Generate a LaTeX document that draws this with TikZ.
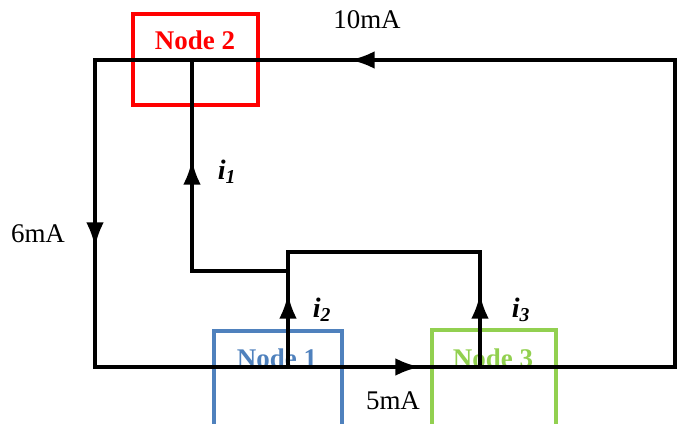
\documentclass[tikz,border=0pt]{standalone}
\usepackage{fontspec}
\setmainfont{Liberation Serif}
\usetikzlibrary{arrows.meta}
\usetikzlibrary{positioning}
\definecolor{nodered}{RGB}{255,0,0}
\definecolor{nodeblue}{RGB}{79,129,189}
\definecolor{nodegreen}{RGB}{146,208,80}

\begin{document}
\begin{tikzpicture}[x=0.03cm, y=-0.03cm, >={Latex[length=21pt, width=15pt]}]
	\tikzstyle{box} = [draw, line width=4pt, inner sep=0pt, minimum height=2.73cm];
	\tikzstyle{wire} = [line width=3pt, line join=miter];
	\tikzstyle{nodetext} = [font=\fontsize{23}{23}\selectfont\bfseries];
	\tikzstyle{current} = [font=\fontsize{23}{23}\selectfont];
	\tikzstyle{branch} = [font=\fontsize{24}{24}\selectfont\bfseries\itshape];

	\useasboundingbox (0,0) rectangle (677,423);

	% node boxes
	\node [box, draw=nodered, minimum width=3.75cm]  (n2) at (195.5,59.5) {};
	\node [box, draw=nodeblue, minimum width=3.84cm, minimum height=3cm] (n1) at (278,381) {};
	\node [box, draw=nodegreen, minimum width=3.72cm, minimum height=3cm] (n3) at (494,380) {};
	\node [nodetext, text=nodered]   (n2text) at (195,40)  {Node 2};
	\node [nodetext, text=nodeblue]  (n1text) at (277,358) {Node 1};
	\node [nodetext, text=nodegreen] (n3text) at (493,358) {Node 3};

	% outer loop
	\coordinate (tl) at (95,60);
	\coordinate (tr) at (675,60);
	\coordinate (bl) at (95,367);
	\coordinate (br) at (675,367);
	\coordinate (topmid) at (350,60);
	\coordinate (leftmid) at (95,247);
	\coordinate (botmid) at (420,367);

	\draw [wire] (tl) -- (tr) -- (br) -- (bl) -- cycle;
	\draw [wire, ->] (bl) -- (botmid);
	\draw [wire, ->] (tr) -- (topmid);
	\draw [wire, ->] (tl) -- (leftmid);

	% inner branches
	\coordinate (j1) at (192,271);
	\coordinate (j2) at (288,271);
	\coordinate (j3) at (288,252);
	\coordinate (j4) at (480,252);
	\coordinate (a1) at (192,160);
	\coordinate (a2) at (288,294);
	\coordinate (a3) at (480,294);

	\draw [wire] (a1 |- tl) -- (j1) -- (j2);
	\draw [wire] (j2 |- bl) -- (j3) -- (j4) -- (a3 |- bl);
	\draw [wire, ->] (j1) -- (a1);
	\draw [wire, ->] (a2 |- bl) -- (a2);
	\draw [wire, ->] (a3 |- bl) -- (a3);

	% labels
	\node [current] (l10) at (367,20)  {10mA};
	\node [current] (l6)  at (38,234)  {6mA};
	\node [current] (l5)  at (393,401) {5mA};
	\node [branch] (i1) at (227,172) {i\textsubscript{1}};
	\node [branch] (i2) at (322,310) {i\textsubscript{2}};
	\node [branch] (i3) at (521,310) {i\textsubscript{3}};
\end{tikzpicture}
\end{document}
